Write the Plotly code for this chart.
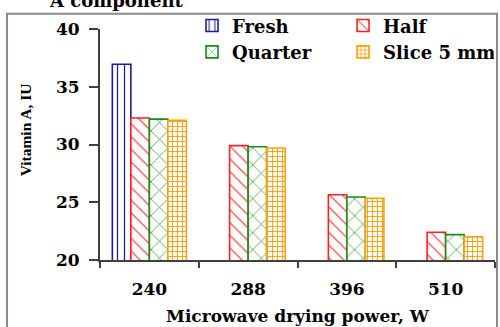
import plotly.graph_objects as go

categories = ["240", "288", "396", "510"]
fresh = [36.95, None, None, None]
half = [32.3, 29.9, 25.65, 22.4]
quarter = [32.2, 29.8, 25.45, 22.2]
slice5 = [32.1, 29.7, 25.35, 22.0]

series_names = ["Fresh", "Half", "Quarter", "Slice 5 mm"]
y_ticks = [20, 25, 30, 35, 40]

FONT = "DejaVu Serif"
AX = "#3f3f3f"

styles = [
    dict(line="#1c1c96", fg="#1c1c96", shape="|", size=7, sol=0.18),
    dict(line="#ff2020", fg="#ff5050", shape="\\", size=9, sol=0.15),
    dict(line="#1a8a1a", fg="#2a9a2a", shape="x", size=12, sol=0.12),
    dict(line="#ffa010", fg="#ffa010", shape="+", size=5, sol=0.35),
]

fig = go.Figure()
for name, vals, st in zip(series_names, [fresh, half, quarter, slice5], styles):
    fig.add_trace(go.Bar(
        x=categories, y=vals, name=name,
        marker=dict(
            color="white",
            line=dict(color=st["line"], width=1.6),
            pattern=dict(shape=st["shape"], fgcolor=st["fg"], bgcolor="white",
                         size=st["size"], solidity=st["sol"], fillmode="replace"),
        ),
    ))

fig.update_layout(
    width=500, height=327,
    margin=dict(l=100, r=5, t=29, b=67, autoexpand=False),
    paper_bgcolor="white", plot_bgcolor="white",
    barmode="group", bargap=0.25, bargroupgap=0,
    showlegend=True,
    legend=dict(
        orientation="h", x=0.233, y=1.094, xanchor="left", yanchor="top",
        entrywidth=106, entrywidthmode="pixels",
        font=dict(family=FONT, size=18, color="black", weight="bold"),
        bgcolor="rgba(0,0,0,0)", itemwidth=30, tracegroupgap=0,
    ),
    xaxis=dict(
        type="category", showline=True, linecolor=AX, linewidth=2,
        ticks="outside", ticklen=6, tickwidth=2, tickcolor=AX,
        tickson="boundaries", showgrid=False, zeroline=False, automargin=False,
        ticklabelstandoff=13,
        tickfont=dict(family=FONT, size=17, color="black", weight="bold"),
        title=dict(text="Microwave drying power, W", standoff=12,
                   font=dict(family=FONT, size=17, color="black", weight="bold")),
    ),
    yaxis=dict(
        range=[20, 40], tickvals=y_ticks, showline=True, linecolor=AX, linewidth=2,
        ticks="outside", ticklen=9, tickwidth=2, tickcolor=AX,
        showgrid=False, zeroline=False, automargin=False,
        ticklabelstandoff=6,
        tickfont=dict(family=FONT, size=17, color="black", weight="bold"),
    ),
    shapes=[dict(type="rect", xref="paper", yref="paper",
                 x0=-0.2354, x1=1.0051, y0=-0.32, y1=1.0663,
                 line=dict(color="#8a8a8a", width=2), layer="below")],
    annotations=[
        dict(text="A component", xref="paper", yref="paper",
             x=0.0405, y=1.1227, xanchor="center", yanchor="middle",
             showarrow=False,
             font=dict(family=FONT, size=18, color="black", weight="bold")),
        dict(text="Vitamin A, IU", xref="paper", yref="paper",
             x=-0.1885, y=0.5635, xanchor="center", yanchor="middle",
             textangle=-90, showarrow=False,
             font=dict(family="Liberation Serif", size=15.5, color="black", weight="bold")),
    ],
)

fig.write_html("out.html", config={"displayModeBar": False},
               post_script="document.body.style.margin='0';")
